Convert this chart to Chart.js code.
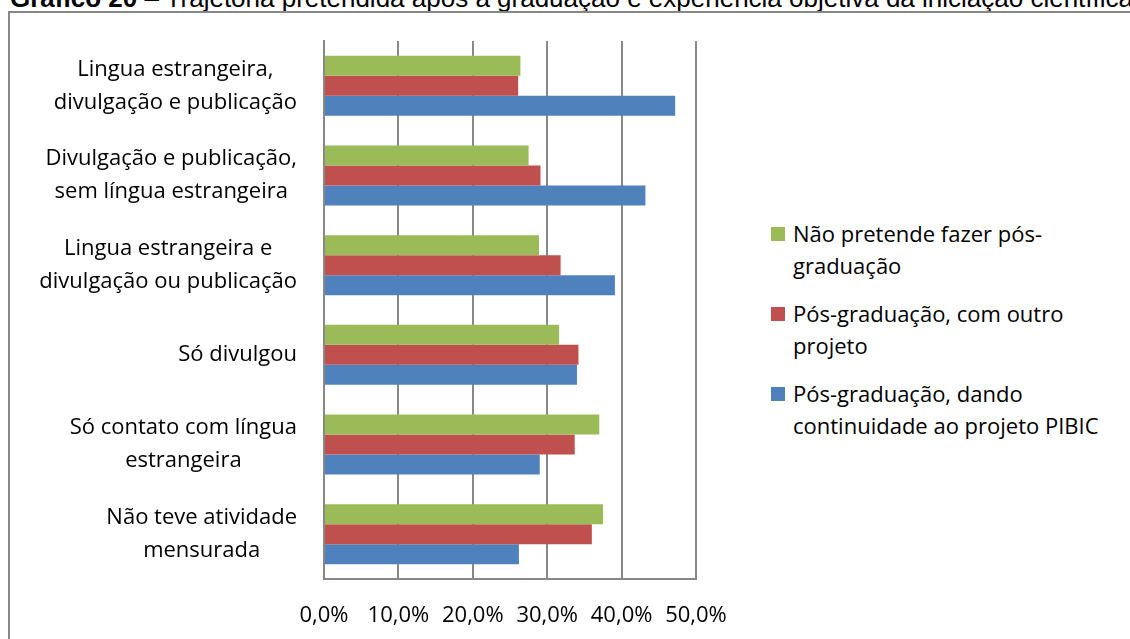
<!DOCTYPE html>
<html>
<head>
<meta charset="utf-8">
<script src="https://cdn.jsdelivr.net/npm/chart.js@4"></script>
<style>
    html, body { margin: 0; padding: 0; background: #fff; overflow: hidden; width: 1130px; height: 639px; }
    #title {
        position: absolute; left: 10px; top: -15px;
        font-family: "Liberation Sans", Arial, sans-serif; font-size: 26px; line-height: 26px;
        white-space: nowrap; color: #000;
    }
    #frame {
        position: absolute; left: 8px; top: 11px; width: 1200px; height: 700px;
        border: 2px solid #888; box-sizing: border-box;
    }
    #chartWrap { position: absolute; left: 0; top: 0; width: 760px; height: 639px; }
    #legend {
        position: absolute; left: 771px; top: 217px;
        font-family: "Open Sans", sans-serif; font-size: 22px; line-height: 32px; color: #000;
    }
    .item { position: relative; padding-left: 22px; margin-bottom: 16px; }
    .box { position: absolute; left: 0; top: 10px; width: 14px; height: 14px; }
</style>
</head>
<body>
<div id="title"><b>Gráfico 20</b> – Trajetória pretendida após a graduação e experiência objetiva da iniciação científica</div>
<div id="frame"></div>
<div id="chartWrap"><canvas id="grafico" width="760" height="639"></canvas></div>
<div id="legend"></div>

<script>
const categorias = [
    ['Lingua estrangeira,', 'divulgação e publicação'],
    ['Divulgação e publicação,', 'sem língua estrangeira'],
    ['Lingua estrangeira e', 'divulgação ou publicação'],
    'Só divulgou',
    ['Só contato com língua', 'estrangeira'],
    ['Não teve atividade', 'mensurada']
]

const seriesNomes = [
    'Não pretende fazer pós-graduação',
    'Pós-graduação, com outro projeto',
    'Pós-graduação, dando continuidade ao projeto PIBIC'
]
const legendaLinhas = [
    ['Não pretende fazer pós-', 'graduação'],
    ['Pós-graduação, com outro', 'projeto'],
    ['Pós-graduação, dando', 'continuidade ao projeto PIBIC']
]

const naoPretende = [26.4, 27.5, 28.9, 31.6, 37.0, 37.5]
const outroProjeto = [26.1, 29.1, 31.8, 34.2, 33.7, 36.0]
const continuidade = [47.2, 43.2, 39.1, 34.0, 29.0, 26.2]

const xTicks = [0, 10, 20, 30, 40, 50]

const cores = ['#9BBB59', '#C0504D', '#4F81BD']
const labelFont = { family: '"Open Sans", sans-serif', size: 22, lineHeight: 1.45 }

function formatPct(v) {
    return v.toFixed(1).replace('.', ',') + '%'
}

// rótulos do eixo y: bloco alinhado à direita, linhas centradas (como no Excel)
const rotulosY = {
    id: 'rotulosY',
    afterDraw(chart) {
        const { ctx } = chart
        const y = chart.scales.y
        const right = chart.chartArea.left - 27
        const lh = 33
        ctx.save()
        ctx.font = '22px "Open Sans", sans-serif'
        ctx.fillStyle = '#000'
        ctx.textAlign = 'center'
        ctx.textBaseline = 'middle'
        chart.data.labels.forEach((lab, i) => {
            const linhas = Array.isArray(lab) ? lab : [lab]
            const w = Math.max(...linhas.map(l => ctx.measureText(l).width))
            const cx = right - w / 2
            const cy = y.getPixelForTick(i)
            linhas.forEach((l, j) => {
                ctx.fillText(l, cx, cy + (j - (linhas.length - 1) / 2) * lh)
            })
        })
        ctx.restore()
    }
}

const valores = [naoPretende, outroProjeto, continuidade]

new Chart(document.getElementById('grafico'), {
    type: 'bar',
    data: {
        labels: categorias,
        datasets: valores.map((data, i) => ({
            label: seriesNomes[i],
            data,
            backgroundColor: cores[i],
            borderWidth: 0,
            categoryPercentage: 0.67,
            barPercentage: 1.0
        }))
    },
    options: {
        indexAxis: 'y',
        responsive: false,
        animation: false,
        layout: { padding: { top: 41, right: 64, bottom: 0, left: 0 } },
        plugins: { legend: { display: false }, tooltip: { enabled: false } },
        scales: {
            x: {
                min: 0,
                max: 50,
                afterBuildTicks: s => { s.ticks = xTicks.map(v => ({ value: v })) },
                afterFit: s => { s.height = 60 },
                grid: { color: '#888', lineWidth: 2, drawTicks: false },
                border: { color: '#888', width: 2 },
                ticks: {
                    color: '#000',
                    font: labelFont,
                    padding: 21,
                    maxRotation: 0,
                    callback: v => formatPct(v)
                }
            },
            y: {
                afterFit: s => { s.width = 324 },
                grid: { display: false, drawTicks: false },
                border: { color: '#888', width: 2 },
                ticks: { display: false }
            }
        }
    },
    plugins: [rotulosY]
})

// legenda em HTML
const legend = document.getElementById('legend')
legendaLinhas.forEach((linhas, i) => {
    const item = document.createElement('div')
    item.className = 'item'
    const box = document.createElement('span')
    box.className = 'box'
    box.style.background = cores[i]
    item.appendChild(box)
    linhas.forEach(l => {
        const line = document.createElement('div')
        line.textContent = l
        item.appendChild(line)
    })
    legend.appendChild(item)
})
</script>
</body>
</html>
